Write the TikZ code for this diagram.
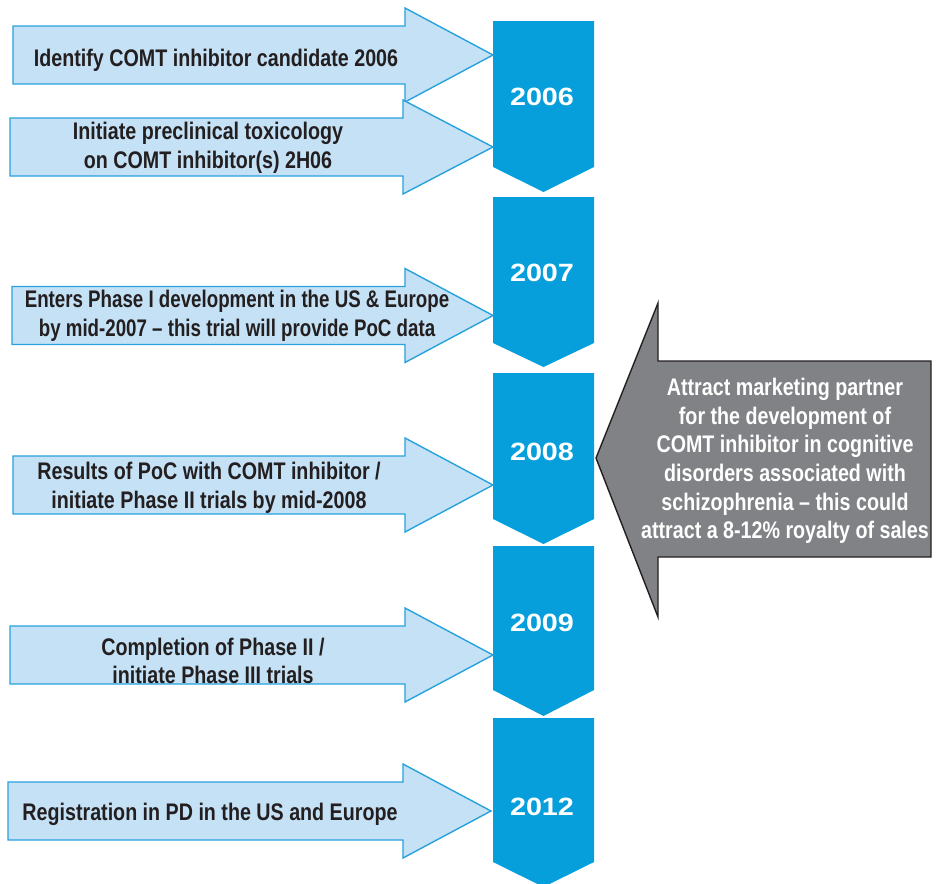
\documentclass[tikz,border=0pt]{standalone}
\usepackage{fontspec}
\setmainfont{Liberation Sans}
\newfontfamily\labelfont{Liberation Sans}[FakeStretch=0.82]
\newfontfamily\labelfonttight{Liberation Sans}[FakeStretch=0.78]
\newfontfamily\yearfont{Liberation Sans}[FakeStretch=1.15]

\definecolor{yearblue}{HTML}{069FDB}
\definecolor{stepfill}{HTML}{C5E1F5}
\definecolor{stepline}{HTML}{27A2DC}
\definecolor{partnerfill}{HTML}{808285}
\definecolor{inkdark}{HTML}{231F20}

\tikzset{
  yearbox/.style={fill=yearblue, draw=none},
  stepshape/.style={fill=stepfill, draw=stepline, line width=1.4pt, line join=miter},
  partnershape/.style={fill=partnerfill, draw=inkdark, line width=1.4pt, line join=miter},
  steptext/.style={font=\labelfont\bfseries\fontsize{24}{28.6}\selectfont,
    text=inkdark, align=center, inner sep=0pt},
  steptexttight/.style={steptext, font=\labelfonttight\bfseries\fontsize{24}{28.6}\selectfont},
  partnertext/.style={steptext, text=white},
  yeartext/.style={font=\yearfont\bfseries\fontsize{25}{30}\selectfont,
    text=white, inner sep=0pt},
}

% year chevron: top edge y, corner y, tip y
\newcommand\yearchevron[3]{%
  \path[yearbox] (493,#1) -- (594,#1) -- (594,#2) -- (543.5,#3) -- (493,#2) -- cycle;}
% right-pointing milestone arrow: left x, centre y, head base x, tip x
\newcommand\steparrow[4]{%
  \path[stepshape] (#1,#2-29) -- (#3,#2-29) -- (#3,#2-47) -- (#4,#2)
    -- (#3,#2+47) -- (#3,#2+29) -- (#1,#2+29) -- cycle;}

\begin{document}
\begin{tikzpicture}[x=1pt,y=-1pt]
  \useasboundingbox (0,0) rectangle (946,884);

  % timeline of years
  \yearchevron{21}{167}{192}
  \yearchevron{197}{343}{367}
  \yearchevron{373}{519}{544}
  \yearchevron{546}{690}{716}
  \yearchevron{718}{862}{887}

  \node[yeartext] (y2006) at (542,97) {2006};
  \node[yeartext] (y2007) at (542,273) {2007};
  \node[yeartext] (y2008) at (542,452) {2008};
  \node[yeartext] (y2009) at (542,623) {2009};
  \node[yeartext] (y2012) at (542,807) {2012};

  % milestones
  \steparrow{13}{55}{405}{493}
  \steparrow{10}{147}{403}{493}
  \steparrow{12}{315.5}{405}{493}
  \steparrow{13}{485}{405}{493}
  \steparrow{10}{655}{405}{493}
  \steparrow{8}{811}{403}{491}

  \node[steptext] (m1) at (216,60) {Identify COMT inhibitor candidate 2006};
  \node[steptext] (m2) at (208,147.5) {Initiate preclinical toxicology\\on COMT inhibitor(s) 2H06};
  \node[steptexttight] (m3) at (237,316) {Enters Phase I development in the US \& Europe\\by mid-2007 \textendash{} this trial will provide PoC data};
  \node[steptext] (m4) at (209,488) {Results of PoC with COMT inhibitor /\\initiate Phase II trials by mid-2008};
  \node[steptext] (m5) at (213,661) {Completion of Phase II /\\initiate Phase III trials};
  \node[steptext] (m6) at (210,814) {Registration in PD in the US and Europe};

  % partnering arrow
  \path[partnershape] (931,361) -- (658,361) -- (658,303) -- (596,458)
    -- (658,617) -- (658,557) -- (931,557) -- cycle;
  \node[partnertext] (partner) at (785,461) {Attract marketing partner\\for the development of\\COMT inhibitor in cognitive\\disorders associated with\\schizophrenia \textendash{} this could\\attract a 8-12\% royalty of sales};
\end{tikzpicture}
\end{document}
